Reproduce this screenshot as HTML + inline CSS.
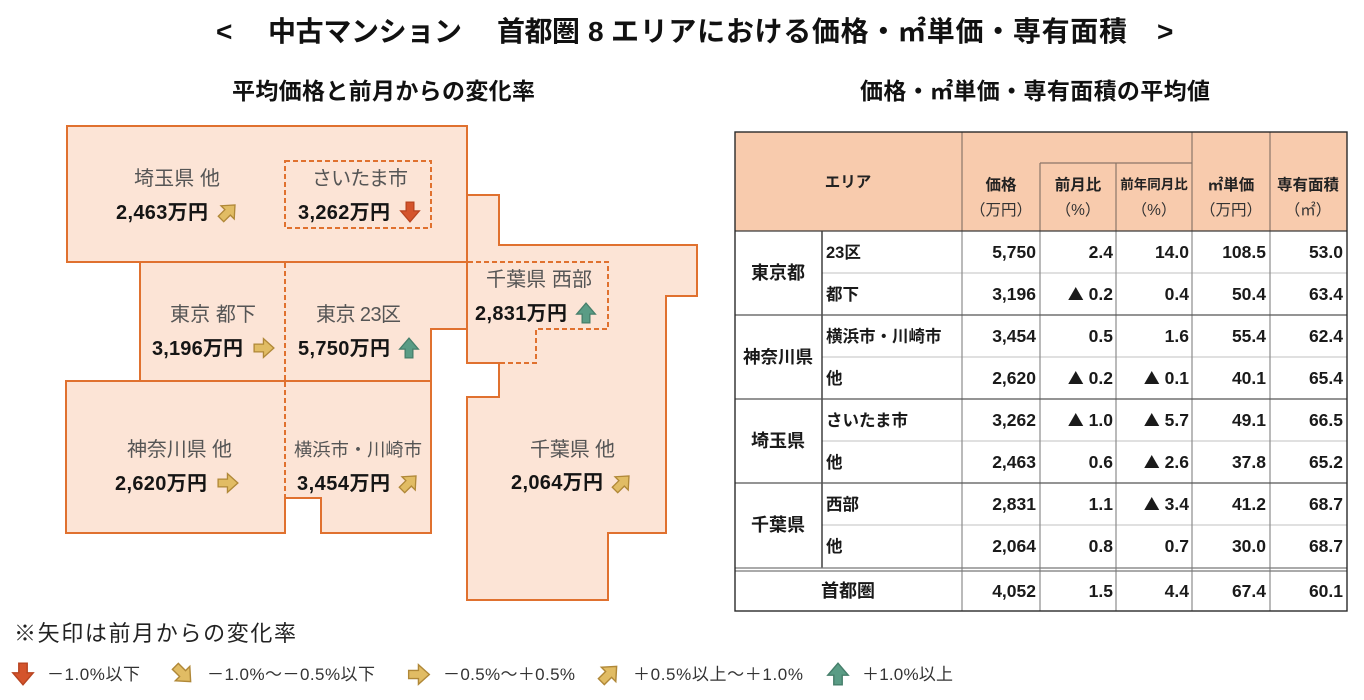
<!DOCTYPE html>
<html><head><meta charset="utf-8">
<style>
html,body{margin:0;padding:0;background:#fff;}
svg{display:block;}
text{font-family:"Liberation Sans","Noto Sans CJK JP",sans-serif;}
.b{font-weight:700;}
.lb{font-size:20px;fill:#555;}
.val{font-size:20px;font-weight:700;fill:#151515;}
.hd{font-size:15.5px;font-weight:700;fill:#222;}
.hr{font-size:15.5px;fill:#333;}
.num{font-size:17.5px;font-weight:700;fill:#1a1a1a;text-anchor:end;}
.tri{font-family:"Noto Sans CJK JP",sans-serif;font-size:16px;}
.sub{font-size:16.5px;font-weight:700;fill:#1a1a1a;}
.grp{font-size:18px;font-weight:700;fill:#1a1a1a;text-anchor:middle;}
.lg{font-size:17px;fill:#333;}
</style></head><body>
<svg width="1364" height="700" viewBox="0 0 1364 700" xmlns="http://www.w3.org/2000/svg">
<defs>
<symbol id="dn" viewBox="0 0 20 20"><polygon points="6.5,1 13.5,1 13.5,9 18.5,9 10,19 1.5,9 6.5,9" fill="#D4542C" stroke="#B84420" stroke-width="1.2"/></symbol>
<symbol id="up" viewBox="0 0 20 20"><polygon points="6.5,19 13.5,19 13.5,11 18.5,11 10,1 1.5,11 6.5,11" fill="#5A9C85" stroke="#467F6B" stroke-width="1.2"/></symbol>
<symbol id="rt" viewBox="0 0 20 20"><polygon points="1,6.5 9.5,6.5 9.5,1.5 19,10 9.5,18.5 9.5,13.5 1,13.5" fill="#E1BC64" stroke="#B08838" stroke-width="1.2"/></symbol>
<symbol id="ne" viewBox="0 0 20 20"><g transform="rotate(-45 10 10)"><polygon points="1,6.5 9.5,6.5 9.5,1.5 19,10 9.5,18.5 9.5,13.5 1,13.5" fill="#E1BC64" stroke="#B08838" stroke-width="1.2"/></g></symbol>
<symbol id="se" viewBox="0 0 20 20"><g transform="rotate(45 10 10)"><polygon points="1,6.5 9.5,6.5 9.5,1.5 19,10 9.5,18.5 9.5,13.5 1,13.5" fill="#E1BC64" stroke="#B08838" stroke-width="1.2"/></g></symbol>
</defs>

<!-- Title -->
<text x="216" y="41" class="b" style="font-size:28px" fill="#111">&lt;</text>
<text x="268" y="41" class="b" style="font-size:28px" fill="#111" textLength="194" lengthAdjust="spacing">中古マンション</text>
<text x="497" y="41" class="b" style="font-size:28px" fill="#111" textLength="83" lengthAdjust="spacing">首都圏</text>
<text x="588" y="41" class="b" style="font-size:28px" fill="#111">8</text>
<text x="611" y="41" class="b" style="font-size:28px" fill="#111" textLength="516" lengthAdjust="spacing">エリアにおける価格・㎡単価・専有面積</text>
<text x="1157" y="41" class="b" style="font-size:28px" fill="#111">&gt;</text>

<!-- Subtitles -->
<text x="232" y="99" class="b" style="font-size:23px" fill="#111" textLength="303" lengthAdjust="spacing">平均価格と前月からの変化率</text>
<text x="860" y="99" class="b" style="font-size:23px" fill="#111" textLength="350" lengthAdjust="spacing">価格・㎡単価・専有面積の平均値</text>

<!-- Map shapes -->
<g fill="#FCE4D6" stroke="#E0712F" stroke-width="2" stroke-linejoin="miter">
<rect x="67" y="126" width="400" height="136"/>
<polygon points="140,262 467,262 467,329 431,329 431,381 140,381"/>
<polygon points="66,381 431,381 431,533 321,533 321,498 285,498 285,533 66,533"/>
<polygon points="467,195 499,195 499,245 697,245 697,296 666,296 666,533 608,533 608,600 467,600 467,397 499,397 499,363 467,363"/>
</g>
<g fill="none" stroke="#E0712F" stroke-width="2" stroke-dasharray="5,3">
<rect x="285" y="161" width="146" height="67"/>
<line x1="285" y1="263" x2="285" y2="380"/>
<line x1="285" y1="382" x2="285" y2="497"/>
<polyline points="468,262 608,262 608,329 536,329 536,363 468,363"/>
</g>

<!-- Map labels -->
<text x="134" y="185" class="lb" textLength="86" lengthAdjust="spacing">埼玉県 他</text>
<text x="116" y="219" class="val" textLength="92" lengthAdjust="spacing">2,463万円</text>
<use href="#ne" x="217" y="201" width="22" height="22"/>

<text x="312" y="185" class="lb" textLength="96" lengthAdjust="spacing">さいたま市</text>
<text x="298" y="219" class="val" textLength="92" lengthAdjust="spacing">3,262万円</text>
<use href="#dn" x="399" y="201" width="22" height="22"/>

<text x="170" y="321" class="lb" textLength="86" lengthAdjust="spacing">東京 都下</text>
<text x="152" y="355" class="val" textLength="91" lengthAdjust="spacing">3,196万円</text>
<use href="#rt" x="252" y="337" width="24" height="22"/>

<text x="316" y="321" class="lb" textLength="85" lengthAdjust="spacing">東京 23区</text>
<text x="298" y="355" class="val" textLength="92" lengthAdjust="spacing">5,750万円</text>
<use href="#up" x="398" y="337" width="22" height="22"/>

<text x="486" y="286" class="lb" textLength="106" lengthAdjust="spacing">千葉県 西部</text>
<text x="475" y="320" class="val" textLength="92" lengthAdjust="spacing">2,831万円</text>
<use href="#up" x="575" y="302" width="22" height="22"/>

<text x="127" y="456" class="lb" textLength="105" lengthAdjust="spacing">神奈川県 他</text>
<text x="115" y="490" class="val" textLength="92" lengthAdjust="spacing">2,620万円</text>
<use href="#rt" x="216" y="472" width="24" height="22"/>

<text x="294" y="456" class="lb" style="font-size:18.3px" textLength="128" lengthAdjust="spacing">横浜市・川崎市</text>
<text x="297" y="490" class="val" textLength="93" lengthAdjust="spacing">3,454万円</text>
<use href="#ne" x="398" y="472" width="22" height="22"/>

<text x="530" y="456" class="lb" textLength="85" lengthAdjust="spacing">千葉県 他</text>
<text x="511" y="489" class="val" textLength="92" lengthAdjust="spacing">2,064万円</text>
<use href="#ne" x="611" y="472" width="22" height="22"/>

<!-- Legend -->
<text x="14" y="641" style="font-size:22px" fill="#222" textLength="282" lengthAdjust="spacing">※矢印は前月からの変化率</text>
<use href="#dn" x="11" y="662" width="24" height="24"/>
<text x="47" y="680" class="lg" textLength="93" lengthAdjust="spacing">－1.0%以下</text>
<use href="#se" x="171" y="662" width="24" height="24"/>
<text x="207" y="680" class="lg" textLength="168" lengthAdjust="spacing">－1.0%～－0.5%以下</text>
<use href="#rt" x="406" y="663" width="26" height="23"/>
<text x="443" y="680" class="lg" textLength="132" lengthAdjust="spacing">－0.5%～＋0.5%</text>
<use href="#ne" x="597" y="662" width="24" height="24"/>
<text x="633" y="680" class="lg" textLength="170" lengthAdjust="spacing">＋0.5%以上～＋1.0%</text>
<use href="#up" x="826" y="662" width="24" height="24"/>
<text x="862" y="680" class="lg" textLength="91" lengthAdjust="spacing">＋1.0%以上</text>

<!-- Table -->
<rect x="735" y="132" width="612" height="99" fill="#F8CBAD"/>
<g stroke="#8A7568" stroke-width="1.2">
<line x1="962" y1="132" x2="962" y2="231"/>
<line x1="1192" y1="132" x2="1192" y2="231"/>
<line x1="1270" y1="132" x2="1270" y2="231"/>
<line x1="1040" y1="163" x2="1040" y2="231"/>
<line x1="1116" y1="163" x2="1116" y2="231"/>
<line x1="1040" y1="163" x2="1192" y2="163"/>
</g>
<g stroke="#D6D6D6" stroke-width="1.5">
<line x1="822" y1="273" x2="1347" y2="273"/>
<line x1="822" y1="357" x2="1347" y2="357"/>
<line x1="822" y1="441" x2="1347" y2="441"/>
<line x1="822" y1="525" x2="1347" y2="525"/>
</g>
<g stroke="#8C8C8C" stroke-width="1.2">
<line x1="962" y1="231" x2="962" y2="611"/>
<line x1="1040" y1="231" x2="1040" y2="611"/>
<line x1="1116" y1="231" x2="1116" y2="611"/>
<line x1="1192" y1="231" x2="1192" y2="611"/>
<line x1="1270" y1="231" x2="1270" y2="611"/>
</g>
<line x1="822" y1="231" x2="822" y2="568" stroke="#222" stroke-width="1.3"/>
<g stroke="#555" stroke-width="1.3">
<line x1="735" y1="315" x2="1347" y2="315"/>
<line x1="735" y1="399" x2="1347" y2="399"/>
<line x1="735" y1="483" x2="1347" y2="483"/>
</g>
<g stroke="#777" stroke-width="1.2">
<line x1="735" y1="568" x2="1347" y2="568"/>
<line x1="735" y1="571" x2="1347" y2="571"/>
</g>
<line x1="735" y1="231" x2="1347" y2="231" stroke="#3a3a3a" stroke-width="1.3"/>
<rect x="735" y="132" width="612" height="479" fill="none" stroke="#2a2a2a" stroke-width="1.4"/>

<!-- header text -->
<text x="848" y="187" class="hd" text-anchor="middle">エリア</text>
<text x="1001" y="190" class="hd" text-anchor="middle">価格</text>
<text x="1001" y="215" class="hr" text-anchor="middle">（万円）</text>
<text x="1078" y="190" class="hd" text-anchor="middle">前月比</text>
<text x="1078" y="215" class="hr" text-anchor="middle">（%）</text>
<text x="1154" y="189" class="hd" style="font-size:13.5px" text-anchor="middle">前年同月比</text>
<text x="1154" y="215" class="hr" text-anchor="middle">（%）</text>
<text x="1231" y="190" class="hd" text-anchor="middle">㎡単価</text>
<text x="1231" y="215" class="hr" text-anchor="middle">（万円）</text>
<text x="1308" y="190" class="hd" text-anchor="middle">専有面積</text>
<text x="1308" y="215" class="hr" text-anchor="middle">（㎡）</text>

<!-- group labels -->
<text x="778" y="279" class="grp">東京都</text>
<text x="778" y="363" class="grp" style="font-size:17.5px">神奈川県</text>
<text x="778" y="447" class="grp">埼玉県</text>
<text x="778" y="531" class="grp">千葉県</text>
<text x="848" y="597" class="grp">首都圏</text>

<!-- sub labels -->
<text x="826" y="258" class="sub">23区</text>
<text x="826" y="300" class="sub">都下</text>
<text x="826" y="342" class="sub">横浜市・川崎市</text>
<text x="826" y="384" class="sub">他</text>
<text x="826" y="426" class="sub">さいたま市</text>
<text x="826" y="468" class="sub">他</text>
<text x="826" y="510" class="sub">西部</text>
<text x="826" y="552" class="sub">他</text>

<!-- numbers -->
<text x="1036" y="258" class="num">5,750</text><text x="1113" y="258" class="num">2.4</text><text x="1189" y="258" class="num">14.0</text><text x="1266" y="258" class="num">108.5</text><text x="1343" y="258" class="num">53.0</text>
<text x="1036" y="300" class="num">3,196</text><text x="1113" y="300" class="num"><tspan class="tri">▲</tspan> 0.2</text><text x="1189" y="300" class="num">0.4</text><text x="1266" y="300" class="num">50.4</text><text x="1343" y="300" class="num">63.4</text>
<text x="1036" y="342" class="num">3,454</text><text x="1113" y="342" class="num">0.5</text><text x="1189" y="342" class="num">1.6</text><text x="1266" y="342" class="num">55.4</text><text x="1343" y="342" class="num">62.4</text>
<text x="1036" y="384" class="num">2,620</text><text x="1113" y="384" class="num"><tspan class="tri">▲</tspan> 0.2</text><text x="1189" y="384" class="num"><tspan class="tri">▲</tspan> 0.1</text><text x="1266" y="384" class="num">40.1</text><text x="1343" y="384" class="num">65.4</text>
<text x="1036" y="426" class="num">3,262</text><text x="1113" y="426" class="num"><tspan class="tri">▲</tspan> 1.0</text><text x="1189" y="426" class="num"><tspan class="tri">▲</tspan> 5.7</text><text x="1266" y="426" class="num">49.1</text><text x="1343" y="426" class="num">66.5</text>
<text x="1036" y="468" class="num">2,463</text><text x="1113" y="468" class="num">0.6</text><text x="1189" y="468" class="num"><tspan class="tri">▲</tspan> 2.6</text><text x="1266" y="468" class="num">37.8</text><text x="1343" y="468" class="num">65.2</text>
<text x="1036" y="510" class="num">2,831</text><text x="1113" y="510" class="num">1.1</text><text x="1189" y="510" class="num"><tspan class="tri">▲</tspan> 3.4</text><text x="1266" y="510" class="num">41.2</text><text x="1343" y="510" class="num">68.7</text>
<text x="1036" y="552" class="num">2,064</text><text x="1113" y="552" class="num">0.8</text><text x="1189" y="552" class="num">0.7</text><text x="1266" y="552" class="num">30.0</text><text x="1343" y="552" class="num">68.7</text>
<text x="1036" y="597" class="num">4,052</text><text x="1113" y="597" class="num">1.5</text><text x="1189" y="597" class="num">4.4</text><text x="1266" y="597" class="num">67.4</text><text x="1343" y="597" class="num">60.1</text>
</svg>
</body></html>
